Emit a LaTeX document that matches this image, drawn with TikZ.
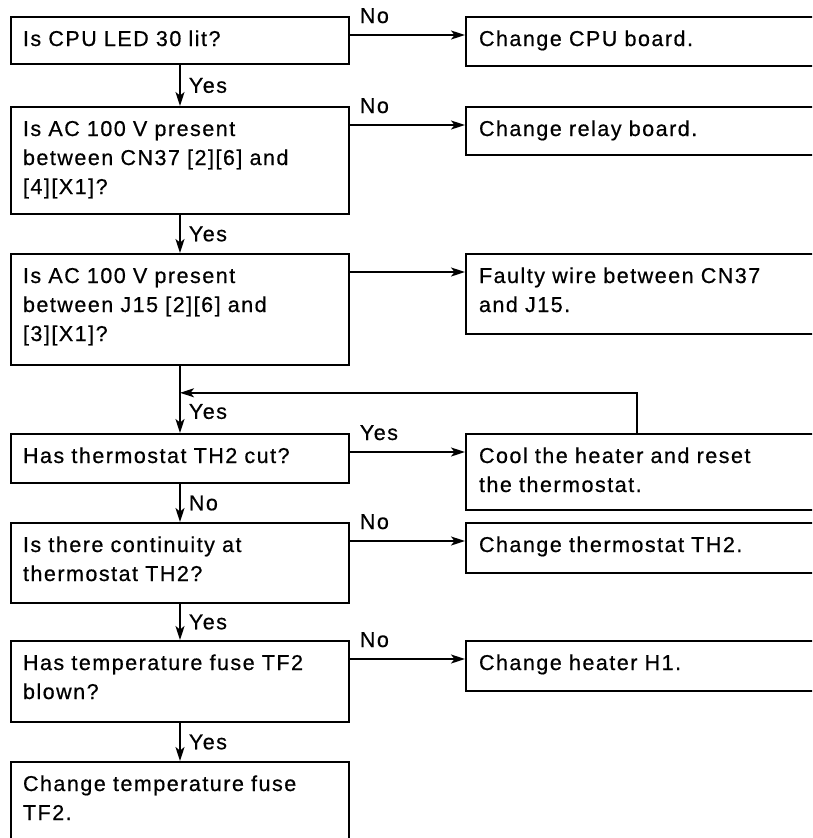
\documentclass[tikz,border=0pt]{standalone}
\usepackage{fontspec}
\setmainfont{Liberation Sans}[LetterSpace=7, FakeBold=0.6]
\usetikzlibrary{arrows.meta,calc}
\tikzset{
  qbox/.style={draw, line width=2pt, anchor=north west, align=left,
    inner xsep=12pt, inner ysep=0pt, text width=314pt, text height=29pt},
  abox/.style={qbox, inner xsep=13pt, text width=340pt},
  arr/.style={line width=1.8pt, -{Stealth[length=14pt,width=9pt,inset=3.5pt]}},
  lbl/.style={inner sep=0pt}
}
\begin{document}
\begin{tikzpicture}[x=1pt, y=-1pt, font=\fontsize{21.5pt}{29pt}\selectfont]
\useasboundingbox (0,0) rectangle (812,838);
\clip (0,0) rectangle (812,838);

% questions
\node[qbox, text depth=18pt] (q1) at (10,16) {Is CPU LED 30 lit?};
\node[qbox, text depth=78pt] (q2) at (10,106) {Is AC 100 V present\\between CN37 [2][6] and\\{}[4][X1]?};
\node[qbox, text depth=82pt] (q3) at (10,253) {Is AC 100 V present\\between J15 [2][6] and\\{}[3][X1]?};
\node[qbox, text depth=20pt] (q4) at (10,433) {Has thermostat TH2 cut?};
\node[qbox, text depth=51pt] (q5) at (10,522) {Is there continuity at\\thermostat TH2?};
\node[qbox, text depth=52pt] (q6) at (10,640) {Has temperature fuse TF2\\blown?};
\node[qbox, text depth=61pt] (q7) at (10,761) {Change temperature fuse\\TF2.};

% actions
\node[abox, text depth=20pt] (r1) at (465,16) {Change CPU board.};
\node[abox, text depth=19pt] (r2) at (465,106) {Change relay board.};
\node[abox, text depth=51pt] (r3) at (465,253) {Faulty wire between CN37\\and J15.};
\node[abox, text depth=47pt] (r4) at (465,433) {Cool the heater and reset\\the thermostat.};
\node[abox, text depth=21pt] (r5) at (465,522) {Change thermostat TH2.};
\node[abox, text depth=21pt] (r6) at (465,640) {Change heater H1.};

% down the left column
\draw[arr] (q1.south) -- (q2.north) node[lbl, midway, right, xshift=8pt] {Yes};
\draw[arr] (q2.south) -- (q3.north) node[lbl, midway, right, xshift=8pt] {Yes};
\draw[arr] (q3.south) -- (q4.north) node[lbl, pos=0.68, right, xshift=8pt] {Yes};
\draw[arr] (q4.south) -- (q5.north) node[lbl, midway, right, xshift=8pt] {No};
\draw[arr] (q5.south) -- (q6.north) node[lbl, midway, right, xshift=8pt] {Yes};
\draw[arr] (q6.south) -- (q7.north) node[lbl, midway, right, xshift=8pt] {Yes};

% across to the right
\draw[arr] ([yshift=-19pt]q1.north east) node[lbl, anchor=base west, xshift=9pt, yshift=12pt] {No} -- ([yshift=-19pt]r1.north west);
\draw[arr] ([yshift=-19pt]q2.north east) node[lbl, anchor=base west, xshift=9pt, yshift=12pt] {No} -- ([yshift=-19pt]r2.north west);
\draw[arr] ([yshift=-19pt]q3.north east) -- ([yshift=-19pt]r3.north west);
\draw[arr] ([yshift=-19pt]q4.north east) node[lbl, anchor=base west, xshift=9pt, yshift=12pt] {Yes} -- ([yshift=-19pt]r4.north west);
\draw[arr] ([yshift=-19pt]q5.north east) node[lbl, anchor=base west, xshift=9pt, yshift=12pt] {No} -- ([yshift=-19pt]r5.north west);
\draw[arr] ([yshift=-19pt]q6.north east) node[lbl, anchor=base west, xshift=9pt, yshift=12pt] {No} -- ([yshift=-19pt]r6.north west);

% back after reset
\draw[arr] ([xshift=172pt]r4.north west) |- ($(q3.south)!0.4!(q4.north)$);
\end{tikzpicture}
\end{document}
